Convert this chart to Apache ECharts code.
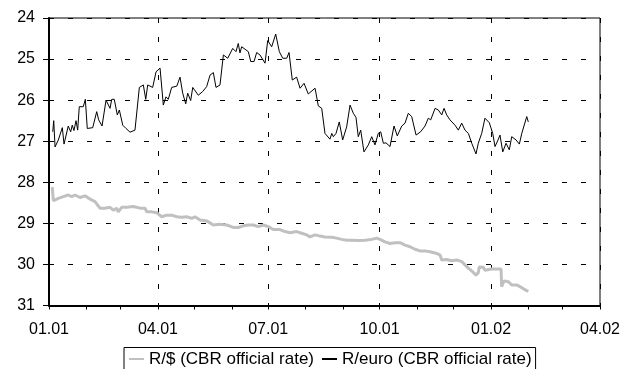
<!DOCTYPE html>
<html>
<head>
<meta charset="utf-8">
<script src="https://cdn.jsdelivr.net/npm/echarts@6/dist/echarts.min.js"></script>
<style>
html,body{margin:0;padding:0;background:#fff;}
#chart{width:622px;height:369px;}
</style>
</head>
<body>
<div id="chart"></div>
<script>
// Days counted from 01.01.2001
const quarterDays = [0, 90, 181, 273, 365, 455];
const quarterLabels = ['01.01', '04.01', '07.01', '10.01', '01.02', '04.02'];
const monthDays = [0, 31, 59, 90, 120, 151, 181, 212, 243, 273, 304, 334, 365, 396, 424, 455];
const yTicks = [24, 25, 26, 27, 28, 29, 30, 31];

const seriesNames = ['R/$ (CBR official rate)', 'R/euro (CBR official rate)'];

const usdDays = [2.7, 3.6, 7.7, 11.8, 15.9, 18.7, 21.5, 25.6, 29.7, 33.9, 38, 42.1, 46.2, 50.4, 53.1, 55.9, 57.2, 60, 64.2, 69.6,
  75.1, 79.3, 80.7, 84.8, 88.9, 93.1, 97.2, 101.3, 105.5, 109.6, 113.7, 117.8, 120.6, 124.7, 130.2, 135.7, 141.2, 146.7, 152.2, 156.3,
  160.4, 164.6, 168.7, 172.8, 177, 181.1, 185.2, 190.8, 194.9, 199, 204.5, 208.7, 212.8, 215.5, 219.7, 223.8, 227.9, 233.5, 237.6, 241.7,
  245.8, 250, 255.4, 261, 266.5, 270.6, 273.3, 277.5, 281.6, 285.7, 289.9, 294, 298.1, 302.2, 306.4, 310.5, 314.6, 318.8, 322.9, 324.3,
  328.4, 332.5, 336.7, 340.8, 343.5, 346.3, 349.9, 352.6, 354.5, 355.3, 358.6, 360, 361.4, 365.6, 369.7, 373.3, 373.8, 375.7, 379.3, 382.1,
  386.2, 388.9, 392.2, 395.8];
const usdRates = [28.12, 28.45, 28.39, 28.35, 28.31, 28.35, 28.31, 28.37, 28.33, 28.41, 28.47, 28.63, 28.63, 28.61, 28.68, 28.63, 28.72, 28.61, 28.61, 28.59,
  28.63, 28.63, 28.72, 28.72, 28.74, 28.84, 28.80, 28.80, 28.84, 28.85, 28.84, 28.88, 28.84, 28.92, 28.94, 29.04, 29.02, 29.04, 29.10, 29.10,
  29.06, 29.04, 29.04, 29.08, 29.04, 29.08, 29.15, 29.15, 29.20, 29.23, 29.20, 29.24, 29.28, 29.33, 29.28, 29.31, 29.33, 29.34, 29.36, 29.39,
  29.41, 29.41, 29.42, 29.41, 29.39, 29.36, 29.39, 29.45, 29.49, 29.47, 29.47, 29.53, 29.57, 29.63, 29.67, 29.67, 29.69, 29.72, 29.77, 29.89,
  29.88, 29.91, 29.89, 29.93, 30.01, 30.09, 30.18, 30.26, 30.20, 30.06, 30.07, 30.14, 30.10, 30.11, 30.11, 30.11, 30.54, 30.40, 30.42, 30.50,
  30.50, 30.54, 30.60, 30.66];

const euroDays = [3.1, 3.9, 5, 7.7, 11, 12.4, 15.9, 17.9, 19.2, 20.6, 22.3, 23.7, 25, 28.3, 30, 31.6, 36.1, 39.4, 41, 43.8,
  47.1, 50.4, 51.8, 53.9, 56.4, 58.1, 60.9, 63.6, 66.9, 71, 74.6, 77.9, 79.9, 81.5, 85.6, 88.4, 91.7, 94.4, 96.6, 98.5,
  101.3, 105.5, 108.2, 110.4, 112.9, 114.5, 117, 118.7, 123.3, 126.9, 130.2, 133, 135.7, 137.9, 141.2, 144, 147.6, 151.7, 154.4, 156.3,
  157.7, 159.1, 164.6, 166.6, 169.3, 171.5, 174.2, 178.4, 180.6, 183.9, 187.2, 190.2, 193, 196.3, 198.2, 200.9, 204.5, 207.3, 210.6, 214.1,
  219.7, 222.4, 225.2, 227.9, 229.3, 232, 233.5, 234.8, 237, 239.7, 242.5, 245.8, 248.6, 251.3, 253.5, 255.4, 257.4, 260.1, 263.7, 266.5,
  269.2, 271.9, 273.9, 276.1, 278.3, 281.6, 284.9, 287.6, 291.3, 294, 296.7, 299.5, 303.1, 306.9, 310.5, 313.2, 315.2, 318.8, 321.5, 324.3,
  326.2, 328.4, 331.1, 335.3, 338, 340.8, 343.5, 346.3, 349.1, 352.6, 354.5, 357.3, 360, 363.6, 366.4, 368.3, 370.8, 372.4, 374.7, 377.4,
  380.1, 382.1, 385.7, 388.4, 390.4, 394.5, 395.8];
const euroRates = [26.77, 26.50, 27.14, 26.97, 26.67, 27.07, 26.63, 26.77, 26.61, 26.74, 26.50, 26.73, 26.16, 26.16, 25.98, 26.69, 26.67, 26.28, 26.48, 26.63,
  26.00, 26.20, 25.98, 25.98, 26.36, 26.24, 26.61, 26.69, 26.78, 26.73, 25.69, 25.63, 25.98, 25.63, 25.69, 25.31, 25.22, 26.12, 25.92, 25.98,
  25.69, 25.66, 25.44, 25.83, 26.09, 25.83, 26.01, 25.69, 25.88, 25.79, 25.67, 25.39, 25.33, 25.69, 25.63, 24.90, 24.98, 24.74, 24.82, 24.62,
  24.85, 24.70, 24.82, 25.06, 25.06, 24.84, 24.90, 25.10, 24.55, 24.70, 24.39, 24.82, 24.98, 24.98, 24.84, 25.51, 25.44, 25.71, 25.59, 25.85,
  25.71, 26.14, 26.20, 26.81, 26.77, 26.95, 26.81, 26.89, 26.81, 26.53, 26.97, 26.65, 26.12, 26.32, 26.42, 26.89, 26.73, 27.26, 27.09, 26.89,
  27.09, 26.81, 26.77, 27.05, 27.04, 27.13, 26.63, 26.87, 26.63, 26.56, 26.32, 26.40, 26.85, 26.77, 26.63, 26.44, 26.48, 26.20, 26.24, 26.36,
  26.20, 26.36, 26.48, 26.61, 26.73, 26.56, 26.73, 26.81, 27.05, 27.31, 27.05, 26.81, 26.44, 26.55, 26.81, 27.13, 26.97, 26.85, 27.26, 27.05,
  27.21, 26.89, 26.97, 27.07, 26.81, 26.40, 26.53];

const usdData = usdDays.map((d, i) => [d, usdRates[i]]);
const euroData = euroDays.map((d, i) => [d, euroRates[i]]);

const FONT = 'Liberation Sans, Arial, sans-serif';
const dashStyle = { color: '#000', width: 1, type: [5, 14] };

const chart = echarts.init(document.getElementById('chart'), null, { renderer: 'canvas' });
chart.setOption({
  animation: false,
  backgroundColor: '#fff',
  textStyle: { fontFamily: FONT, color: '#000' },
  grid: {
    left: 49, right: 22, top: 18, bottom: 63.5,
    show: true, borderColor: '#000', borderWidth: 1, backgroundColor: 'transparent',
    outerBoundsMode: 'none'
  },
  legend: {
    left: 124, top: 347.5,
    padding: [3, 4, 3, 4],
    itemGap: 7,
    itemWidth: 15, itemHeight: 14,
    borderColor: '#000', borderWidth: 1,
    backgroundColor: '#fff',
    itemStyle: { opacity: 0 },
    textStyle: { fontFamily: FONT, fontSize: 17, color: '#000' },
    data: seriesNames
  },
  xAxis: [{
    type: 'value', min: 0, max: 455,
    axisLine: { show: true, onZero: false, lineStyle: { color: '#000', width: 2 } },
    axisTick: { show: true, inside: false, length: 4, customValues: monthDays, lineStyle: { color: '#000', width: 1 } },
    axisLabel: {
      show: true, margin: 16, fontSize: 16, color: '#000', fontFamily: FONT,
      customValues: quarterDays,
      formatter: v => { const i = quarterDays.indexOf(Math.round(v)); return i >= 0 ? quarterLabels[i] : ''; }
    },
    splitLine: { show: false }
  }, {
    type: 'value', min: 0, max: 455, position: 'bottom',
    axisLine: { show: false },
    axisTick: { show: false, customValues: quarterDays },
    axisLabel: { show: false, customValues: quarterDays },
    splitLine: { show: true, lineStyle: dashStyle }
  }],
  yAxis: {
    type: 'value', inverse: true, min: 24, max: 31, interval: 1,
    axisLine: { show: true, onZero: false, lineStyle: { color: '#000', width: 2 } },
    axisTick: { show: true, inside: false, length: 6, lineStyle: { color: '#000', width: 1 } },
    axisLabel: { margin: 14, fontSize: 16, color: '#000', fontFamily: FONT,
      formatter: v => yTicks.indexOf(v) >= 0 ? String(v) : '' },
    splitLine: { show: true, lineStyle: dashStyle }
  },
  series: [{
    name: seriesNames[0], type: 'line', data: usdData,
    showSymbol: false, symbol: 'none',
    lineStyle: { color: '#c0c0c0', width: 3 }, itemStyle: { color: '#c0c0c0' },
    z: 3
  }, {
    name: seriesNames[1], type: 'line', data: euroData,
    showSymbol: false, symbol: 'none',
    lineStyle: { color: '#000', width: 1 }, itemStyle: { color: '#000' },
    z: 4
  }]
});
</script>
</body>
</html>
